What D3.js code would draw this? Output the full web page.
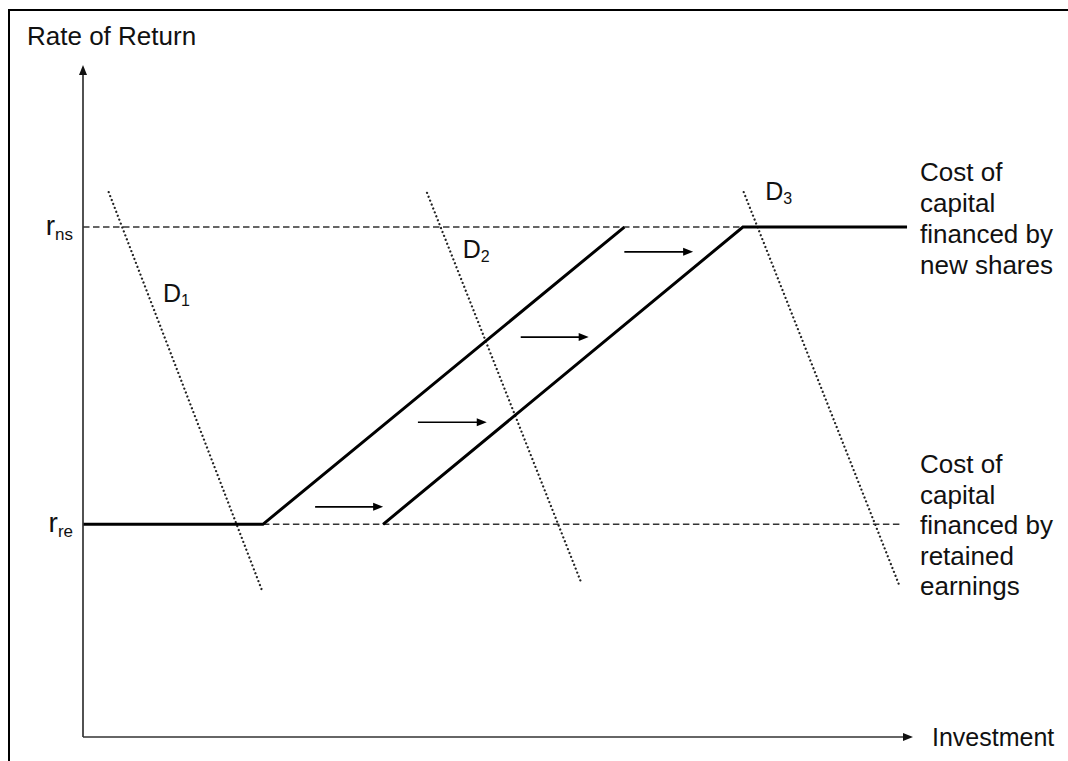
<!DOCTYPE html>
<html>
<head>
<meta charset="utf-8">
<script src="https://cdn.jsdelivr.net/npm/d3@7"></script>
<style>
  html, body { margin: 0; padding: 0; background: #fff; }
  svg { display: block; }
  text { font-family: "Liberation Sans", Arial, sans-serif; fill: #111; }
</style>
</head>
<body>
<svg id="chart" width="1068" height="761"></svg>
<script>
// ---------- data (chart units: investment 0-100, rate 0-100) ----------
const rateLevels = [31.7, 76.0];                 // r_re, r_ns
const rateLabels = [["r", "re"], ["r", "ns"]];
const mcc1 = [[0, 31.7], [21.7, 31.7], [65.3, 76.0]];
const mcc2 = [[36.2, 31.7], [79.6, 76.0], [99.4, 76.0]];
const dashedNs = [[0, 76.0], [79.6, 76.0]];
const dashedRe = [[21.7, 31.7], [98.9, 31.7]];
const demandNames = [["D", "1"], ["D", "2"], ["D", "3"]];
const demandLines = [
  [[3.1, 81.2], [21.7, 21.5]],
  [[41.5, 81.1], [60.1, 23.0]],
  [[79.7, 81.2], [98.4, 22.8]]
];
const shiftArrows = [            // [rate, from, to]
  [34.3, 28.0, 36.2],
  [46.9, 40.4, 48.7],
  [59.6, 52.8, 61.0],
  [72.3, 65.3, 73.6]
];
const costLabelNs = ["Cost of", "capital", "financed by", "new shares"];
const costLabelRe = ["Cost of", "capital", "financed by", "retained", "earnings"];
const yTitle = "Rate of Return";
const xTitle = "Investment";

// ---------- layout ----------
const W = 1068, H = 761;
const svg = d3.select("#chart");
const x = d3.scaleLinear().domain([0, 100]).range([83, 912]);
const y = d3.scaleLinear().domain([0, 100]).range([737, 66]);
const line = d3.line().x(d => x(d[0])).y(d => y(d[1]));

// frame (top and left edges visible)
svg.append("path")
  .attr("d", `M9,${H + 5}V10H${W + 5}`)
  .attr("fill", "none").attr("stroke", "#000").attr("stroke-width", 2);

// dashed reference levels
svg.selectAll(".dash").data([dashedNs, dashedRe]).join("path")
  .attr("class", "dash")
  .attr("d", line)
  .attr("fill", "none").attr("stroke", "#333")
  .attr("stroke-width", 1.4).attr("stroke-dasharray", "6.5,3.5");

// demand curves (dotted)
svg.selectAll(".demand").data(demandLines).join("path")
  .attr("class", "demand")
  .attr("d", line)
  .attr("fill", "none").attr("stroke", "#222")
  .attr("stroke-width", 2.3).attr("stroke-linecap", "round")
  .attr("stroke-dasharray", "0.01,4.2");

// cost of capital schedules
svg.selectAll(".mcc").data([mcc1, mcc2]).join("path")
  .attr("class", "mcc")
  .attr("d", line)
  .attr("fill", "none").attr("stroke", "#000")
  .attr("stroke-width", 3).attr("stroke-linejoin", "miter");

// axes
const x0 = x(0), y0 = y(0), xEnd = x(100), yEnd = y(100);
svg.append("line").attr("x1", x0).attr("y1", y0).attr("x2", x0).attr("y2", yEnd + 6)
  .attr("stroke", "#333").attr("stroke-width", 1.7);
svg.append("line").attr("x1", x0).attr("y1", y0).attr("x2", xEnd - 6).attr("y2", y0)
  .attr("stroke", "#333").attr("stroke-width", 1.7);
svg.append("path")
  .attr("d", `M${x0},${yEnd - 1}L${x0 - 4},${yEnd + 9}L${x0 + 4},${yEnd + 9}Z`)
  .attr("fill", "#111");
svg.append("path")
  .attr("d", `M${xEnd + 1},${y0}L${xEnd - 9},${y0 - 4}L${xEnd - 9},${y0 + 4}Z`)
  .attr("fill", "#111");

// y tick labels via axis
const yAxis = d3.axisLeft(y).tickValues(rateLevels).tickSize(0).tickPadding(10).tickFormat(() => "");
const gy = svg.append("g").attr("transform", `translate(${x0},0)`).call(yAxis);
gy.select(".domain").remove();
gy.selectAll(".tick text").each(function(d, i) {
  const t = d3.select(this);
  t.text(null).attr("dy", null).attr("y", 7)
    .attr("font-family", "Liberation Sans, Arial, sans-serif").attr("fill", "#111");
  t.append("tspan").attr("font-size", 28).text(rateLabels[i][0]);
  t.append("tspan").attr("font-size", 17).attr("dy", 5).text(rateLabels[i][1]);
});

// shift arrows
shiftArrows.forEach(a => {
  const yy = y(a[0]), xa = x(a[1]), xb = x(a[2]);
  svg.append("line").attr("x1", xa).attr("y1", yy).attr("x2", xb - 7).attr("y2", yy)
    .attr("stroke", "#000").attr("stroke-width", 1.6);
  svg.append("path")
    .attr("d", `M${xb},${yy}L${xb - 10},${yy - 4}L${xb - 10},${yy + 4}Z`)
    .attr("fill", "#000");
});

// demand labels
const demandLabelPos = [[9.65, 64.8], [45.8, 71.4], [82.3, 80.0]];
demandNames.forEach((n, i) => {
  const t = svg.append("text")
    .attr("x", x(demandLabelPos[i][0])).attr("y", y(demandLabelPos[i][1]));
  t.append("tspan").attr("font-size", 25).text(n[0]);
  t.append("tspan").attr("font-size", 16).attr("dy", 4).text(n[1]);
});

// cost labels
function block(lines, x0, yFirst, step) {
  const t = svg.append("text").attr("font-size", 26);
  lines.forEach((s, i) => t.append("tspan").attr("x", x0).attr("y", yFirst + i * step).text(s));
}
block(costLabelNs, 920, 181, 31);
block(costLabelRe, 920, 473, 30.5);

// axis titles
svg.append("text").attr("x", 27).attr("y", 45).attr("font-size", 26).text(yTitle);
svg.append("text").attr("x", 932).attr("y", 746).attr("font-size", 25).text(xTitle);
</script>
</body>
</html>
